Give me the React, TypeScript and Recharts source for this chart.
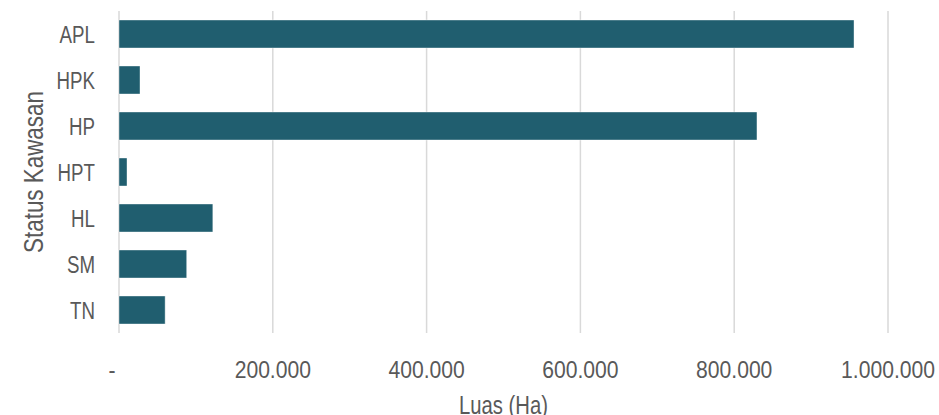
import { BarChart, Bar, XAxis, YAxis, CartesianGrid } from 'recharts'

const kawasan = ['APL', 'HPK', 'HP', 'HPT', 'HL', 'SM', 'TN']
const luasHa = [955800, 27300, 829600, 10400, 122000, 88000, 60000]
const xTicks = [0, 200000, 400000, 600000, 800000, 1000000]

const data = kawasan.map((k, i) => ({ status: k, luas: luasHa[i] }))

// no narrow font installed, so squeeze Liberation Sans horizontally
const font = "'Liberation Sans', Arial, sans-serif"
const textColor = '#595959'

function formatLuas(v: number) {
  if (v === 0) return '-'
  return String(v).replace(/\B(?=(\d{3})+(?!\d))/g, '.')
}

function XTick({ x, y, payload }: any) {
  // accounting-style zero "-" sits a little left of its gridline
  const shift = payload.value === 0 ? -7 : 0
  return (
    <g transform={`translate(${x + shift},${y}) scale(0.88,1)`}>
      <text textAnchor="middle" dy="0.71em" fontSize={24} fill={textColor} fontFamily={font}>
        {formatLuas(payload.value)}
      </text>
    </g>
  )
}

function YTick({ x, y, payload }: any) {
  return (
    <g transform={`translate(${x},${y}) scale(0.78,1)`}>
      <text textAnchor="end" dy="0.38em" fontSize={24} fill={textColor} fontFamily={font}>
        {payload.value}
      </text>
    </g>
  )
}

function XTitle({ viewBox }: any) {
  const cx = viewBox.x + viewBox.width / 2
  return (
    <g transform={`translate(${cx},414) scale(0.81,1)`}>
      <text textAnchor="middle" fontSize={25} fill={textColor} fontFamily={font}>
        Luas (Ha)
      </text>
    </g>
  )
}

function YTitle({ viewBox }: any) {
  const cy = viewBox.y + viewBox.height / 2
  return (
    <g transform={`translate(32.5,${cy}) rotate(-90) scale(0.8,1)`}>
      <text textAnchor="middle" dy="0.36em" fontSize={28} fill={textColor} fontFamily={font}>
        Status Kawasan
      </text>
    </g>
  )
}

export default function App() {
  return (
    <div style={{ position: 'absolute', left: 0, top: 0 }}>
      <BarChart
        width={939}
        height={415}
        data={data}
        layout="vertical"
        margin={{ top: 11, right: 51, bottom: 0, left: 0 }}
      >
        <CartesianGrid horizontal={false} stroke="#d9d9d9" strokeWidth={1.5} />
        <XAxis
          type="number"
          domain={[0, 1000000]}
          ticks={xTicks}
          axisLine={false}
          tickLine={false}
          tickSize={0}
          tickMargin={28}
          height={82}
          tick={<XTick />}
          label={<XTitle />}
        />
        <YAxis
          type="category"
          dataKey="status"
          width={119}
          axisLine={false}
          tickLine={false}
          tickSize={0}
          tickMargin={24}
          tick={<YTick />}
          label={<YTitle />}
        />
        <Bar
          dataKey="luas"
          fill="#205e6f"
          stroke="#ffffff"
          strokeOpacity={0.5}
          strokeWidth={0.75}
          barSize={28}
          isAnimationActive={false}
        />
      </BarChart>
    </div>
  )
}
